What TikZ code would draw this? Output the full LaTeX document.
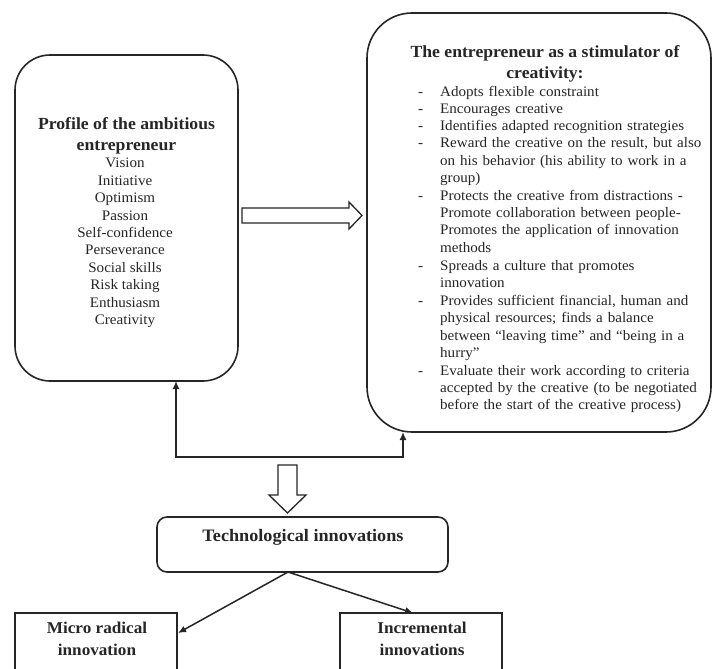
\documentclass[tikz,border=0pt]{standalone}
\usepackage{fontspec}
\setmainfont[FakeStretch=1.04]{Liberation Serif}
\usetikzlibrary{arrows.meta,calc}
\newcommand\ditem[1]{\noindent\makebox[22pt][l]{-}\begin{tabular}[t]{@{}l@{}}#1\end{tabular}\par}
\begin{document}
\begin{tikzpicture}[x=1pt,y=-1pt,
  box/.style={draw=black!85, line width=1.6pt, inner sep=0pt, outer sep=0pt},
  hollow/.style={draw=black!85, line width=1.3pt, fill=white, line join=miter},
  conn/.style={draw=black!85, line width=1.5pt, -{Latex[length=8pt,width=7pt]}},
  bconn/.style={draw=black!85, line width=1.5pt, {Latex[length=8pt,width=7pt]}-{Latex[length=8pt,width=7pt]}},
  ttl/.style={text=black!85, inner sep=0pt, font=\fontsize{17}{21}\selectfont\bfseries},
  body/.style={text=black!85, inner sep=0pt, font=\fontsize{14.5}{17.4}\selectfont},
  rbody/.style={text=black!85, inner sep=0pt, font=\fontsize{14.5}{17.2}\selectfont}]
\useasboundingbox (0,0) rectangle (713,669);
\clip (0,0) rectangle (713,669);
\fill[white] (0,0) rectangle (713,669);

% boxes
\node[box, minimum width=223pt, minimum height=326pt, rounded corners=35pt] (profile) at (126.5,218) {};
\node[box, minimum width=344pt, minimum height=419pt, rounded corners=45pt] (stim) at (539,222.5) {};
\node[box, minimum width=291pt, minimum height=55pt, rounded corners=10pt] (tech) at (302.5,544.5) {};
\node[box, minimum width=162pt, minimum height=90pt] (micro) at (96,658) {};
\node[box, minimum width=162pt, minimum height=90pt] (incr) at (421,658) {};

% left box text
\node[ttl, anchor=north, align=center] (ptitle) at (126.5,117) {Profile of the ambitious\\entrepreneur};
\node[body, anchor=north, align=center] (plist) at (125,158) {Vision\\Initiative\\Optimism\\Passion\\Self-confidence\\Perseverance\\Social skills\\Risk taking\\Enthusiasm\\Creativity};

% right box text
\node[ttl, anchor=north, align=center] (stitle) at (545,45) {The entrepreneur as a stimulator of\\creativity:};
\node[rbody, anchor=north west, text width=285pt, align=left] (slist) at (418,84) {%
\ditem{Adopts flexible constraint}%
\ditem{Encourages creative}%
\ditem{Identifies adapted recognition strategies}%
\ditem{Reward the creative on the result, but also\\on his behavior (his ability to work in a\\group)}%
\ditem{Protects the creative from distractions -\\Promote collaboration between people-\\Promotes the application of innovation\\methods}%
\ditem{Spreads a culture that promotes\\innovation}%
\ditem{Provides sufficient financial, human and\\physical resources; finds a balance\\between ``leaving time'' and ``being in a\\hurry''}%
\ditem{Evaluate their work according to criteria\\accepted by the creative (to be negotiated\\before the start of the creative process)}};

% bottom texts
\node[ttl, font=\fontsize{17.5}{21}\selectfont\bfseries, anchor=base] (techtxt) at (303,541) {Technological innovations};
\node[ttl, font=\fontsize{16.5}{22}\selectfont\bfseries, anchor=north, align=center] (microtxt) at (97,622) {Micro radical\\innovation};
\node[ttl, font=\fontsize{16.5}{22}\selectfont\bfseries, anchor=north, align=center] (incrtxt) at (422,622) {Incremental\\innovations};

% hollow arrow from profile to stimulator
\coordinate (ha1) at ($(profile.east)+(4,-2.5)$);
\coordinate (ha2) at ($(stim.west)+(-5,-7)$);
\draw[hollow] (ha1) ++(0,-7.5) -- ($(ha2)+(-13,-7.5)$) -- ($(ha2)+(-13,-13.5)$) -- (ha2) -- ($(ha2)+(-13,13.5)$) -- ($(ha2)+(-13,7.5)$) -- ($(ha1)+(0,7.5)$) -- cycle;

% hollow down arrow to tech
\coordinate (hd1) at (287.5,465);
\coordinate (hd2) at ($(tech.north)+(-15,-4)$);
\draw[hollow] ($(hd1)+(-9.5,0)$) -- ($(hd2)+(-9.5,-18)$) -- ($(hd2)+(-18.5,-18)$) -- (hd2) -- ($(hd2)+(18.5,-18)$) -- ($(hd2)+(9.5,-18)$) -- ($(hd1)+(9.5,0)$) -- cycle;

% feedback bracket
\coordinate (pa) at ($(profile.south)+(49.5,0)$);
\coordinate (pb) at ($(stim.south)+(-136,0)$);
\coordinate (pc) at (176,457);
\draw[bconn] (pa) -- (pc) -| (pb);

% tech to results
\coordinate (tb) at ($(tech.south)+(-14.5,0)$);
\draw[conn] (tb) -- ($(micro.north east)+(1,20)$);
\draw[conn] (tb) -- ($(incr.north)+(-8,0)$);
\end{tikzpicture}
\end{document}
